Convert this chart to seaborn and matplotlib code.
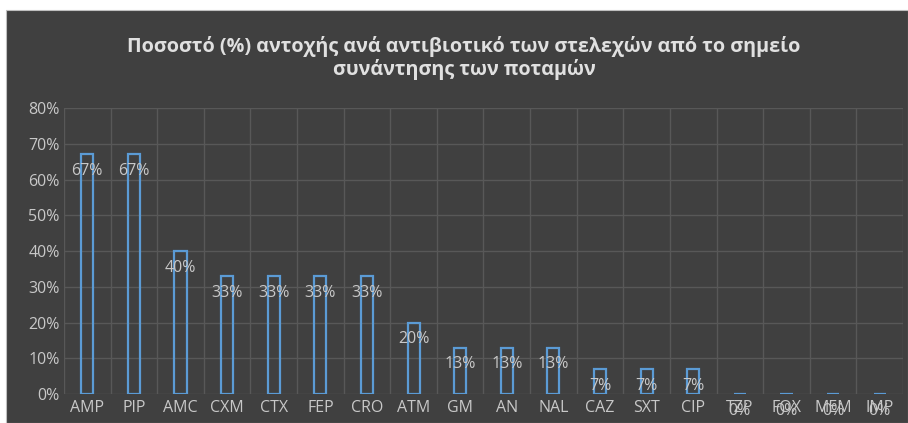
import matplotlib
matplotlib.use("Agg")
import matplotlib.pyplot as plt
import seaborn as sns
import pandas as pd
from matplotlib.patches import Rectangle
from matplotlib.ticker import PercentFormatter

categories = ["AMP", "PIP", "AMC", "CXM", "CTX", "FEP", "CRO", "ATM", "GM", "AN",
              "NAL", "CAZ", "SXT", "CIP", "TZP", "FOX", "MEM", "IMP"]
values = [67, 67, 40, 33, 33, 33, 33, 20, 13, 13, 13, 7, 7, 7, 0, 0, 0, 0]
title = "Ποσοστό (%) αντοχής ανά αντιβιοτικό των στελεχών από το σημείο\nσυνάντησης των ποταμών"

sns.set_theme(style="dark")
plt.rcParams['font.family'] = ['Open Sans', 'Noto Sans', 'DejaVu Sans']

W, H = 908, 423
fig = plt.figure(figsize=(W / 100, H / 100), dpi=100, facecolor="white")
bg = "#404040"
fig.patches.append(Rectangle((6 / W, 0), 1 - 6 / W, 1 - 10 / H, transform=fig.transFigure,
                             facecolor=bg, edgecolor="#bfbfbf", linewidth=0.8, zorder=-10))

left, right, top, bottom = 64, 903, 108, 394
ax = fig.add_axes([left / W, 1 - bottom / H, (right - left) / W, (bottom - top) / H])
ax.set_facecolor(bg)

df = pd.DataFrame({"cat": categories, "val": values})
sns.barplot(data=df, x="cat", y="val", ax=ax, fill=False, color="#5B9BD5",
            width=0.26, linewidth=1.6, errorbar=None)
for p in ax.patches:
    p.set_edgecolor("#5B9BD5")
    p.set_zorder(3)

ax.set_ylim(0, 80)
ax.set_xlim(-0.5, len(categories) - 0.5)
ax.set_yticks(range(0, 81, 10))
ax.yaxis.set_major_formatter(PercentFormatter(decimals=0))
ax.set_xlabel("")
ax.set_ylabel("")

grid_c = "#585858"
for y in range(10, 81, 10):
    ax.axhline(y, color=grid_c, lw=1.0, zorder=1)
ax.axhline(0, color=grid_c, lw=1.0, zorder=1)
for i in range(len(categories) + 1):
    ax.axvline(i - 0.5, color=grid_c, lw=1.0, zorder=1)
for s in ax.spines.values():
    s.set_visible(False)

txt_c = "#c8c8c8"
ax.tick_params(axis="both", colors=txt_c, labelsize=11.5, length=0, pad=3)
ax.tick_params(axis="x", pad=4)

for i, v in enumerate(values):
    ax.annotate(f"{v}%", (i, v), xytext=(0, -12), textcoords="offset points",
                ha="center", va="center", color=txt_c, fontsize=11.5, zorder=4,
                annotation_clip=False)

fig.text(464 / W, 1 - 58 / H, title, ha="center", va="center",
         color="#e0e0e0", fontsize=14.2, fontweight="bold", linespacing=1.15)

fig.savefig("out.png", dpi=100, facecolor="white")
